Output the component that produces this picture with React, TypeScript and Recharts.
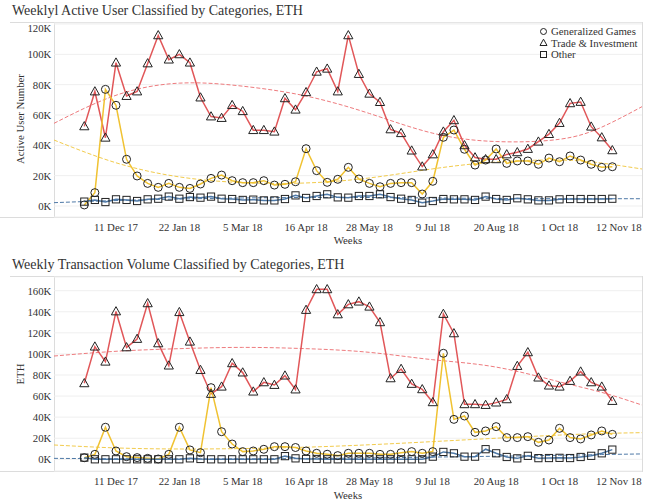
import React from 'react';
import { LineChart, Line, XAxis, YAxis, CartesianGrid } from 'recharts';

// weekly values in thousands, first week = 20 Nov 17 (index 0), last = 5 Nov 18 (index 50)
const tradeUsers = [52.5, 75.5, 45, 94.5, 72.5, 75.5, 94, 112.5, 96.5, 100, 94.5, 71.5, 59, 58, 66.5, 62.5, 50, 50, 49, 71, 63.5, 75, 88.5, 90.5, 75.5, 112.5, 87, 74, 68.5, 50.5, 48, 36.5, 26, 34, 49, 56.5, 40, 32, 30.8, 30.8, 34, 35.4, 37.6, 42.4, 47.4, 54.7, 67.7, 68.6, 52.3, 45.2, 36.7];
const gamesUsers = [0.7, 8.8, 76.9, 66.4, 30.8, 19.8, 14.9, 12.3, 14.9, 12.3, 11.6, 14.5, 18.2, 20.4, 16.7, 15.4, 15.4, 16.7, 13.8, 14.3, 16, 37.8, 23.3, 15.6, 17.6, 25.5, 17.8, 14.9, 12.7, 14.9, 15.4, 15.4, 7.9, 16.3, 45.3, 50.1, 37.4, 27, 30.3, 37.6, 28.1, 29.7, 29.7, 27.5, 31.6, 29.2, 33, 30.3, 27.5, 25.5, 25.9];
const otherUsers = [2.9, 4, 2.6, 4.4, 4, 3.3, 4.4, 4.8, 6.2, 4.8, 5.9, 5.5, 6.2, 4.8, 4.6, 4, 4.2, 3.7, 3.7, 4.6, 7, 5.3, 6.6, 7.7, 5.7, 5.5, 6.6, 6.6, 7.7, 5.9, 4.8, 4, 2.2, 3.3, 4.6, 4.4, 4.4, 4, 6.2, 4.6, 4, 5.1, 4.4, 3.7, 3.7, 4.4, 4.6, 4.6, 4.6, 4.6, 4.8];

const tradeVolume = [72.1, 106.9, 92.6, 140.3, 106.2, 114.2, 148, 110, 88.9, 139.6, 111.6, 84.7, 62, 68.9, 91.1, 82.3, 64.2, 73, 70.5, 79.4, 66.2, 141.7, 161.3, 161.3, 137.5, 147, 149.6, 144.8, 130, 76.8, 85.7, 71.5, 66.4, 54.1, 137.9, 119.5, 52.2, 52.2, 51.5, 53.8, 56.9, 88.5, 101.5, 77.5, 69.9, 68.9, 74.3, 83.2, 73, 68.9, 55.3];
const gamesVolume = [1.5, 4.7, 30.4, 7.9, 2.5, 1.6, 0.9, 0.3, 4.7, 30.4, 8.9, 6.3, 68, 26.2, 14.5, 7.3, 7.9, 9.5, 12, 12, 11.2, 7.9, 5.7, 4.8, 3.5, 5.7, 5.7, 5.7, 4.7, 4.7, 6.3, 7.3, 5.7, 7.3, 100.6, 37.9, 41.1, 25.6, 26.9, 31, 20.6, 20.6, 21.5, 16.1, 18.3, 29.4, 20.6, 19.3, 23.1, 26.9, 23.7];
const otherVolume = [1.6, 0, 0, 0, 0, 0, 0, 0, 0, 0, 0.9, 0.3, 0, 0, 0, 0, 0, 0, 0, 3, 0.9, 0.3, 0.3, 0, 0, 0, 0, 0, 0, 0, 0, 0, 0, 2.5, 7, 5.7, 2.5, 2.5, 9.6, 5.7, 2.2, 0.9, 3.3, 1.1, 1.2, 1.4, 1.2, 2.2, 3.3, 5.7, 9.2];

// trend lines at these week positions
const trendWeeks = [-2.87, 3, 9, 15, 21, 27, 33, 39, 45, 49, 52.81];
const tradeUsersTrend = [54.5, 73, 81, 79, 72.5, 61, 48, 42.5, 44, 52, 65.5];
const gamesUsersTrend = [43.5, 28.5, 19.2, 15.4, 15.2, 18.5, 24.5, 29, 30.3, 28.3, 24.4];
const otherUsersTrend = [2.2, 3.6, 4.6, 5.3, 5.6, 5.6, 5.3, 5, 4.8, 4.8, 4.8];
const tradeVolumeTrend = [98, 102.5, 105, 106.2, 105, 101.5, 94.5, 87.5, 73.5, 63.5, 51.5];
const gamesVolumeTrend = [13.6, 10.8, 9.8, 10.2, 11.5, 13.8, 16.8, 20, 23, 24.5, 25.3];
const otherVolumeTrend = [0.9, 0.5, 0.3, 0.4, 0.7, 1.3, 2.1, 2.9, 3.8, 4.5, 5.1];

const weekTicks = [3, 9, 15, 21, 27, 33, 39, 45, 51];
const weekTickLabels = ['11 Dec 17', '22 Jan 18', '5 Mar 18', '16 Apr 18', '28 May 18', '9 Jul 18', '20 Aug 18', '1 Oct 18', '12 Nov 18'];
const usersTicks = [0, 20, 40, 60, 80, 100, 120];
const volumeTicks = [0, 20, 40, 60, 80, 100, 120, 140, 160];

const FONT = '"Liberation Serif", "Times New Roman", serif';
const TEXT = '#333';
const RED = '#e15759';
const YELLOW = '#f0c232';
const BLUE = '#4e79a7';
const MARK = '#222';

const toRows = (trade: number[], games: number[], other: number[]) =>
  trade.map((t, i) => ({ week: i, trade: t, games: games[i], other: other[i] }));
const toTrend = (vals: number[]) => trendWeeks.map((w, i) => ({ week: w, v: vals[i] }));

const renderTri = (p: any) => {
  if (p.cx == null) return <g key={`t${p.index}`} />;
  const { cx, cy } = p;
  return <path key={`t${p.index}`} d={`M${cx},${cy - 4.8}L${cx + 4.6},${cy + 3.4}L${cx - 4.6},${cy + 3.4}Z`} fill="none" stroke={MARK} strokeWidth={1} />;
};
const renderCircle = (p: any) => {
  if (p.cx == null) return <g key={`c${p.index}`} />;
  return <circle key={`c${p.index}`} cx={p.cx} cy={p.cy} r={4} fill="none" stroke={MARK} strokeWidth={1} />;
};
const renderSquare = (p: any) => {
  if (p.cx == null) return <g key={`s${p.index}`} />;
  return <rect key={`s${p.index}`} x={p.cx - 3.6} y={p.cy - 3.6} width={7.2} height={7.2} fill="none" stroke={MARK} strokeWidth={1} />;
};

const XTick = ({ x, y, payload }: any) => {
  const i = weekTicks.indexOf(payload.value);
  const last = i === weekTicks.length - 1;
  return (
    <text x={last ? x - 4 : x} y={y + 9.5} textAnchor="middle" dominantBaseline="central" fill={TEXT} fontSize={10.8} fontFamily={FONT}>
      {weekTickLabels[i]}
    </text>
  );
};

const makeYTick = (minY: number) => ({ x, y, payload }: any) => (
  <text x={x - 2.6} y={Math.max(y, minY)} textAnchor="end" dominantBaseline="central" fill={TEXT} fontSize={10.8} fontFamily={FONT}>
    {`${payload.value}K`}
  </text>
);

function Panel({ rows, trends, ticks, domain, height, marginTop, minTickY }: any) {
  return (
    <LineChart width={650} height={height} data={rows} margin={{ top: marginTop, right: 8, left: 0, bottom: height - marginTop - 194 - 20 }}>
      <CartesianGrid vertical={false} stroke="#efefef" />
      <XAxis dataKey="week" type="number" domain={[-2.87, 52.81]} ticks={weekTicks} interval={0} tick={<XTick />} tickSize={0} tickMargin={0} axisLine={false} tickLine={false} height={20} allowDataOverflow />
      <YAxis type="number" domain={domain} ticks={ticks} interval={0} tick={makeYTick(minTickY)} tickSize={0} tickMargin={0} axisLine={false} tickLine={false} width={54} allowDataOverflow />
      <Line data={toTrend(trends[0])} dataKey="v" type="natural" stroke="#ee7b7e" strokeWidth={1} strokeDasharray="4 2" dot={false} isAnimationActive={false} />
      <Line data={toTrend(trends[1])} dataKey="v" type="natural" stroke="#f2cb4c" strokeWidth={1} strokeDasharray="4 2" dot={false} isAnimationActive={false} />
      <Line data={toTrend(trends[2])} dataKey="v" type="natural" stroke={BLUE} strokeWidth={1} strokeDasharray="4 2" dot={false} isAnimationActive={false} />
      <Line dataKey="trade" type="linear" stroke={RED} strokeWidth={1.5} dot={renderTri} activeDot={false} isAnimationActive={false} />
      <Line dataKey="games" type="linear" stroke={YELLOW} strokeWidth={1.5} dot={renderCircle} activeDot={false} isAnimationActive={false} />
      <Line dataKey="other" type="linear" stroke={BLUE} strokeWidth={1.5} dot={renderSquare} activeDot={false} isAnimationActive={false} />
    </LineChart>
  );
}

const line = (left: number, top: number, width: number, height: number) => (
  <div style={{ position: 'absolute', left, top, width, height, background: '#dcdcdc' }} />
);

const label = (text: string, left: number, top: number, rotate = false, size = 10.8) => (
  <div style={{ position: 'absolute', left, top, transform: `translate(-50%, -50%)${rotate ? ' rotate(-90deg)' : ''}`, whiteSpace: 'nowrap', fontSize: size, fontFamily: FONT, color: TEXT, lineHeight: 1 }}>
    {text}
  </div>
);

function Legend() {
  const row = (shape: React.ReactNode, text: string, top: number) => (
    <div style={{ position: 'absolute', left: 539, top: top - 6, height: 12, display: 'flex', alignItems: 'center', fontSize: 10.8, fontFamily: FONT, color: TEXT, whiteSpace: 'nowrap' }}>
      <svg width={9} height={9} style={{ marginRight: 3 }}>{shape}</svg>
      {text}
    </div>
  );
  return (
    <>
      {row(<circle cx={4.5} cy={4.5} r={3} fill="none" stroke={MARK} strokeWidth={1} />, 'Generalized Games', 31)}
      {row(<path d="M4.5,1.2L8,7.5L1,7.5Z" fill="none" stroke={MARK} strokeWidth={1} />, 'Trade & Investment', 42.7)}
      {row(<rect x={1.5} y={1.5} width={6} height={6} fill="none" stroke={MARK} strokeWidth={1} />, 'Other', 54.3)}
    </>
  );
}

export default function App() {
  return (
    <div style={{ position: 'absolute', left: 0, top: 0, width: 650, height: 502, background: '#fff', overflow: 'hidden' }}>
      {/* top panel frame */}
      {line(10, 22, 633, 1)}
      {line(0, 217, 643, 1)}
      {line(54, 22, 1, 196)}
      {line(642, 22, 1, 196)}
      {/* bottom panel frame */}
      {line(10, 276, 633, 1)}
      {line(0, 471, 643, 1)}
      {line(54, 276, 1, 196)}
      {line(642, 276, 1, 196)}

      <div style={{ position: 'absolute', left: 12, top: 2, fontSize: 14, fontFamily: FONT, color: TEXT, whiteSpace: 'nowrap', lineHeight: '17px' }}>
        Weeklyl Active User Classified by Categories, ETH
      </div>
      <div style={{ position: 'absolute', left: 12, top: 256, fontSize: 14, fontFamily: FONT, color: TEXT, whiteSpace: 'nowrap', lineHeight: '17px' }}>
        Weekly Transaction Volume Classified by Categories, ETH
      </div>
      {label('Active User Number', 20, 119, true)}
      {label('ETH', 20, 374, true)}
      {label('Weeks', 348, 240)}
      {label('Weeks', 348, 495)}

      <div style={{ position: 'absolute', left: 0, top: 0 }}>
        <Panel rows={toRows(tradeUsers, gamesUsers, otherUsers)} trends={[tradeUsersTrend, gamesUsersTrend, otherUsersTrend]} ticks={usersTicks} domain={[-7.25, 120.66]} height={250} marginTop={23} minTickY={28} />
      </div>
      <div style={{ position: 'absolute', left: 0, top: 250 }}>
        <Panel rows={toRows(tradeVolume, gamesVolume, otherVolume)} trends={[tradeVolumeTrend, gamesVolumeTrend, otherVolumeTrend]} ticks={volumeTicks} domain={[-11.1, 173]} height={252} marginTop={27} minTickY={0} />
      </div>
      <Legend />
    </div>
  );
}
